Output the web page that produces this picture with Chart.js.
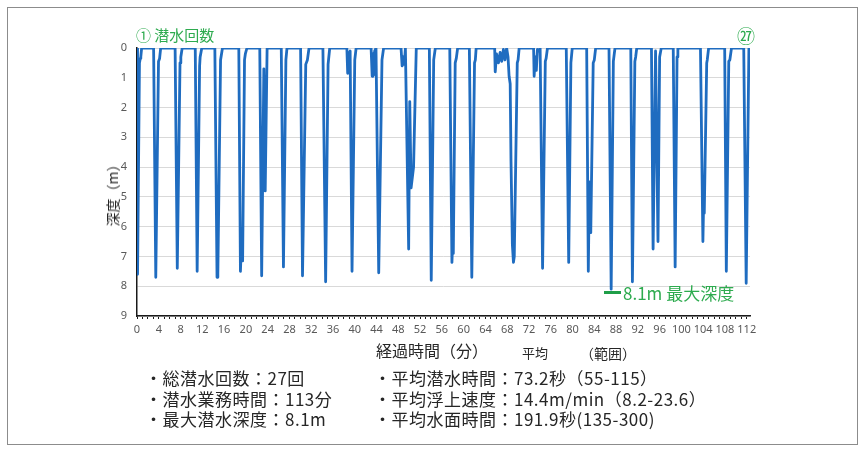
<!DOCTYPE html>
<html lang="ja">
<head>
<meta charset="utf-8">
<title>潜水プロファイル</title>
<script src="https://cdn.jsdelivr.net/npm/chart.js@4.4.1/dist/chart.umd.min.js"></script>
<style>
  html, body { margin: 0; padding: 0; background: #fff; }
  #wrap { position: relative; width: 864px; height: 451px; overflow: hidden;
          font-family: "Noto Sans CJK JP", "Noto Sans", sans-serif; color: #262626; }
  #frame { position: absolute; left: 7px; top: 7px; width: 849px; height: 436px; border: 1px solid #8c8c8c; }
  #chart { position: absolute; left: 0; top: 0; }
  .txt { position: absolute; white-space: nowrap; line-height: 1; }
  .green { color: #2eab4f; }
  #diveLbl { left: 136px; top: 27px; font-size: 15px; }
  #lastLbl { left: 737px; top: 26px; font-size: 18px; }
  #maxBar { position: absolute; left: 604px; top: 291px; width: 17px; height: 3px; background: #1f9e48; }
  #maxLbl { left: 623px; top: 284px; font-size: 17px; }
  #yTitle { left: 112px; top: 192px; font-size: 14px; transform: translate(-50%, -50%) rotate(-90deg); }
  #xTitle { left: 376px; top: 342px; font-size: 16px; }
  #avgHead { left: 522px; top: 346px; font-size: 13px; }
  #rangeHead { left: 580px; top: 346px; font-size: 14px; }
  .stats { position: absolute; top: 368px; font-size: 17px; letter-spacing: 0.5px; line-height: 20.5px; white-space: nowrap; }
  #statsL { left: 145px; }
  #statsR { left: 374px; }
</style>
</head>
<body>
<div id="wrap">
  <div id="frame"></div>
  <canvas id="chart" width="864" height="451"></canvas>
  <div class="txt green" id="diveLbl">① 潜水回数</div>
  <div class="txt green" id="lastLbl">㉗</div>
  <div id="maxBar"></div>
  <div class="txt green" id="maxLbl">8.1m 最大深度</div>
  <div class="txt" id="yTitle">深度（m）</div>
  <div class="txt" id="xTitle">経過時間（分）</div>
  <div class="txt" id="avgHead">平均</div>
  <div class="txt" id="rangeHead">（範囲）</div>
  <div class="stats" id="statsL">・総潜水回数：27回<br>・潜水業務時間：113分<br>・最大潜水深度：8.1m</div>
  <div class="stats" id="statsR">・平均潜水時間：73.2秒（55-115）<br>・平均浮上速度：14.4m/min（8.2-23.6）<br>・平均水面時間：191.9秒(135-300)</div>
</div>
<script>
// elapsed time (min) and depth (m), dive by dive
const elapsedMin = [
  0, 0.1, 0.45, 0.6, 0.7, 0.85,                       // 1
  3.05, 3.45, 3.95, 4.15, 4.35,                       // 2
  7.0, 7.4, 7.9, 8.05, 8.3,                           // 3
  10.7, 11.05, 11.5, 11.6, 11.9,                      // 4
  14.3, 14.7, 14.85, 15.35, 15.7,                     // 5
  18.7, 19.0, 19.2, 19.4, 19.75, 19.9, 20.2,          // 6
  22.55, 22.9, 23.3, 23.55, 23.9,                     // 7
  26.5, 26.9, 27.35, 27.55,                           // 8
  30.05, 30.4, 31.0, 31.3, 31.6,                      // 9
  34.15, 34.65, 35.1, 35.4,                           // 10
  38.55, 38.7, 38.9, 39.15, 39.5, 40.0, 40.25,        // 11
  43.0, 43.2, 43.35, 43.5, 43.65, 43.9, 44.4, 45.0, 45.3, // 12
  48.5, 48.7, 48.9, 49.1, 49.3, 49.9, 50.1, 50.35, 50.8, 51.3, // 13
  53.7, 54.05, 54.5, 54.8,                            // 14
  57.45, 57.85, 58.0, 58.1, 58.45, 58.65, 58.9,       // 15
  61.05, 61.5, 62.0, 62.15, 62.3,                     // 16
  65.7, 65.8, 66.05, 66.4, 66.7, 67.0, 67.3, 67.6, 67.9, 68.15,
  68.35, 68.55, 68.7, 68.95, 69.15, 69.3, 69.85, 70.0, 70.2, // 17
  72.85, 72.95, 73.15, 73.35, 73.55, 73.8, 74.05, 74.5, 75.0, 75.15, 75.4, // 18
  78.85, 79.3, 79.7, 79.95,                           // 19
  82.6, 82.9, 83.1, 83.35, 83.8, 84.0, 84.25,         // 20
  86.7, 87.1, 87.5, 87.8,                             // 21
  90.7, 91.0, 91.45, 91.6, 91.8,                      // 22
  94.5, 94.8, 95.25, 95.7, 96.0, 96.3,                // 23
  98.5, 98.85, 99.2, 99.35,                           // 24
  103.5, 103.95, 104.1, 104.2, 104.65, 104.75, 105.0, // 25
  107.95, 108.25, 108.7, 108.9, 109.2,                // 26
  111.45, 111.9, 112.4                                // 27
];
const depthM = [
  0, 7.6, 0.5, 0.35, 0.3, 0,
  0, 7.7, 0.45, 0.35, 0,
  0, 7.4, 0.5, 0.3, 0,
  0, 7.5, 0.6, 0.3, 0,
  0, 7.7, 7.6, 0.4, 0,
  0, 7.5, 6.45, 7.15, 0.4, 0.2, 0,
  0, 7.65, 0.7, 4.8, 0,
  0, 7.35, 0.4, 0,
  0, 7.65, 0.55, 0.4, 0,
  0, 7.85, 0.55, 0,
  0, 0.85, 0.2, 0.1, 7.5, 0.4, 0,
  0, 0.95, 0.2, 0.9, 0.1, 0, 7.55, 0.4, 0,
  0, 0.6, 0.3, 0.55, 0, 6.75, 1.8, 4.7, 4.0, 0,
  0, 7.8, 0.4, 0,
  0, 7.2, 6.4, 6.9, 0.5, 0.35, 0,
  0, 7.7, 0.5, 0.4, 0,
  0, 0.8, 0.2, 0.5, 0.15, 0.45, 0.05, 0.4, 0, 0.3,
  0.95, 1.2, 3.8, 6.6, 7.2, 7.0, 0.5, 0.4, 0,
  0, 0.95, 0.3, 0.75, 0.05, 0.1, 0, 7.4, 0.45, 0.35, 0,
  0, 7.2, 0.5, 0,
  0, 7.5, 4.5, 6.2, 0.5, 0.4, 0,
  0, 8.1, 0.45, 0,
  0, 7.85, 0.45, 0.3, 0,
  0, 6.75, 0.1, 6.5, 0.3, 0,
  0, 7.35, 0.3, 0,
  0, 6.5, 5.0, 5.55, 0.5, 0.4, 0,
  0, 7.5, 0.45, 0.4, 0,
  0, 7.9, 0
];
const xMax = 112.6;     // end of the time axis (min)
const xLabelStep = 4;   // labelled every 4 min, tick mark every 1 min
const yMax = 9;         // depth axis 0..9 m

const points = elapsedMin.map((t, i) => ({ x: t, y: depthM[i] }));

const ctx = document.getElementById("chart");
new Chart(ctx, {
  type: "line",
  data: {
    datasets: [{
      data: points,
      borderColor: "#1f6cc0",
      borderWidth: 2.8,
      borderJoinStyle: "round",
      borderCapStyle: "round",
      pointRadius: 0,
      tension: 0,
      fill: false,
    }],
  },
  options: {
    responsive: false,
    animation: false,
    layout: { padding: { left: 0, top: 48, right: 114, bottom: 0 } },
    plugins: {
      legend: { display: false },
      tooltip: { enabled: false },
    },
    scales: {
      x: {
        type: "linear",
        min: 0,
        max: xMax,
        afterFit: (scale) => { scale.height = 135; },
        border: { color: "#1a1a1a", width: 1.5 },
        grid: { drawOnChartArea: false, drawTicks: true, tickLength: 3, color: "#1a1a1a" },
        ticks: {
          stepSize: 1,
          autoSkip: false,
          includeBounds: false,
          maxRotation: 0,
          padding: 4,
          color: "#595959",
          font: { family: "'Noto Sans', sans-serif", size: 11 },
          callback: (v) => {
            if (!Number.isInteger(v)) return null;
            return v % xLabelStep === 0 ? String(v) : "";
          },
        },
      },
      y: {
        reverse: true,
        min: 0,
        max: yMax,
        afterFit: (scale) => { scale.width = 137; },
        border: { color: "#1a1a1a", width: 1.5 },
        grid: { color: "#d9d9d9", lineWidth: 1, drawTicks: false },
        ticks: {
          stepSize: 1,
          padding: 10,
          color: "#595959",
          font: { family: "'Noto Sans', sans-serif", size: 11 },
        },
      },
    },
  },
});
</script>
</body>
</html>
